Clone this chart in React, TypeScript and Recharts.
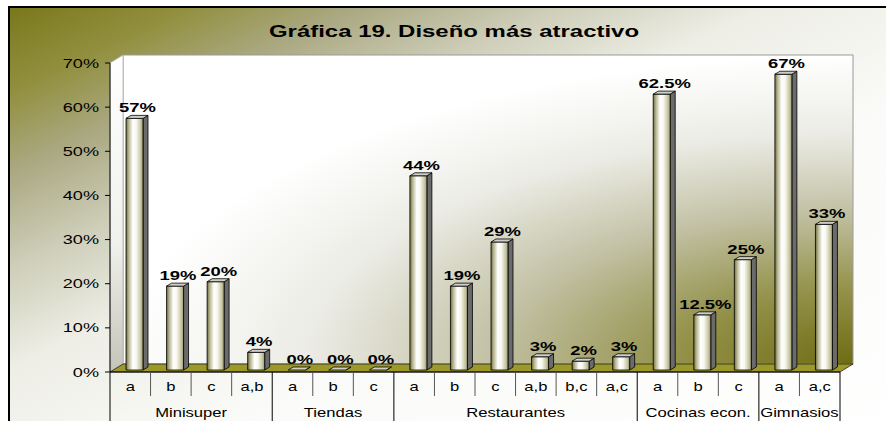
import React from 'react';
import { BarChart, Bar, XAxis, YAxis, ReferenceArea, LabelList } from 'recharts';

const CATS = ['a', 'b', 'c', 'a,b', 'a', 'b', 'c', 'a', 'b', 'c', 'a,b', 'b,c', 'a,c', 'a', 'b', 'c', 'a', 'a,c'];
const VALUES = [57, 19, 20, 4, 0, 0, 0, 44, 19, 29, 3, 2, 3, 62.5, 12.5, 25, 67, 33];
const GROUPS = ['Minisuper', 'Tiendas', 'Restaurantes', 'Cocinas econ.', 'Gimnasios'];
const GROUP_SIZES = [4, 3, 6, 3, 2];
const Y_TICKS = [0, 10, 20, 30, 40, 50, 60, 70];

const data = CATS.map((cat, i) => ({ id: String(i), cat, value: VALUES[i] }));

// index -> group, and where each group starts
const groupStarts: number[] = [];
const groupOf: number[] = [];
GROUP_SIZES.reduce((start, size, g) => {
  groupStarts.push(start);
  for (let k = 0; k < size; k++) groupOf.push(g);
  return start + size;
}, 0);

const FONT = '"Liberation Sans", Arial, sans-serif';

// the original picture is stretched sideways, so text gets a horizontal scale
function SText({ x, y, anchor = 'middle', size = 12, bold = false, sx = 1.4, children }: any) {
  return (
    <g transform={`translate(${x},${y}) scale(${sx},1)`}>
      <text x={0} y={0} textAnchor={anchor} fontSize={size} fontWeight={bold ? 'bold' : 'normal'} fontFamily={FONT} fill="#000">
        {children}
      </text>
    </g>
  );
}

const DX = 13;
const DY = 8;

function Walls(props: any) {
  const { x, y, width, height } = props;
  const b = y + height;
  return (
    <g>
      <defs>
        <radialGradient id="wallGrad" cx="1" cy="1" r="1" fx="1" fy="1">
          <stop offset="0" stopColor="#6e6c12" />
          <stop offset="0.25" stopColor="#95934c" />
          <stop offset="0.5" stopColor="#c3c2a6" />
          <stop offset="0.75" stopColor="#ececE6" />
          <stop offset="1" stopColor="#ffffff" />
        </radialGradient>
        <linearGradient id="sideGrad" x1="0" y1="0" x2="0" y2="1">
          <stop offset="0" stopColor="#ffffff" />
          <stop offset="0.6" stopColor="#f0f0ec" />
          <stop offset="1" stopColor="#c4c4b8" />
        </linearGradient>
        <linearGradient id="barFront" x1="0" y1="0" x2="1" y2="0">
          <stop offset="0" stopColor="#6f6d3c" />
          <stop offset="0.15" stopColor="#b4b28c" />
          <stop offset="0.4" stopColor="#ffffff" />
          <stop offset="0.6" stopColor="#f8f8f0" />
          <stop offset="0.88" stopColor="#c4c29c" />
          <stop offset="1" stopColor="#959370" />
        </linearGradient>
      </defs>
      <rect x={x + DX} y={y - DY} width={width} height={height} fill="url(#wallGrad)" stroke="#9a9a9a" strokeWidth={1} />
      <polygon
        points={`${x},${y} ${x + DX},${y - DY} ${x + DX},${b - DY} ${x},${b}`}
        fill="url(#sideGrad)"
        stroke="#b0b0b0"
        strokeWidth={0.8}
      />
      <polygon
        points={`${x},${b} ${x + DX},${b - DY} ${x + width + DX},${b - DY} ${x + width},${b}`}
        fill="#9c9928"
        stroke="#222"
        strokeWidth={0.8}
      />
    </g>
  );
}

function Bar3D(props: any) {
  const { x, y, width, height } = props;
  const fx = x + 4;
  const top = y - 2;
  const bottom = y + height - 2;
  const d = 5;
  const t = 3;
  return (
    <g stroke="#000" strokeWidth={0.8} strokeLinejoin="round">
      <polygon points={`${fx + width},${top} ${fx + width + d},${top - t} ${fx + width + d},${bottom - t} ${fx + width},${bottom}`} fill="#6b6b6b" />
      <rect x={fx} y={top} width={width} height={Math.max(bottom - top, 0)} fill="url(#barFront)" />
      <polygon points={`${fx},${top} ${fx + d},${top - t} ${fx + width + d},${top - t} ${fx + width},${top}`} fill="#cfcfc8" />
    </g>
  );
}

function BarLabel(props: any) {
  const { x, y, width, value } = props;
  return (
    <SText x={x + width / 2 + 7} y={y - 8} size={13} bold sx={1.42}>
      {`${value}%`}
    </SText>
  );
}

function YTick(props: any) {
  const { x, y, payload } = props;
  return (
    <SText x={x} y={y + 4.5} anchor="end" size={12.5} sx={1.45}>
      {`${payload.value}%`}
    </SText>
  );
}

function XTick(props: any) {
  const { x, y, payload, width } = props;
  const i = Number(payload.value);
  const half = payload.offset || width / CATS.length / 2;
  const g = groupOf[i];
  const first = groupStarts[g] === i;
  const last = groupStarts[g] + GROUP_SIZES[g] - 1 === i;
  return (
    <g>
      {i === 0 && <line x1={x - half} y1={y} x2={x - half} y2={y + 60} stroke="#000" strokeWidth={1} />}
      <line x1={x + half} y1={y} x2={x + half} y2={last ? y + 60 : y + 24} stroke={last ? '#000' : '#555'} strokeWidth={1} />
      <SText x={x} y={y + 19} size={12.5} sx={1.33}>
        {CATS[i]}
      </SText>
      {first && (
        <SText x={x - half + GROUP_SIZES[g] * half} y={y + 45} size={12.5} sx={1.33}>
          {GROUPS[g]}
        </SText>
      )}
    </g>
  );
}

export default function App() {
  return (
    <div style={{ position: 'absolute', left: 0, top: 0, width: 886, height: 421, overflow: 'hidden', background: '#fff' }}>
      <div
        style={{
          position: 'absolute',
          left: 8,
          top: 6,
          width: 900,
          height: 430,
          borderTop: '2px solid #000',
          borderLeft: '2px solid #000',
          background:
            'linear-gradient(to bottom right, #7a781c 0%, #92903f 10%, #aaa880 19%, #cdcdb8 30%, #eeeee6 42%, #fafaf8 60%, #ffffff 100%)',
        }}
      />
      <svg width={886} height={421} style={{ position: 'absolute', left: 0, top: 0 }}>
        <SText x={454} y={37} size={17} bold sx={1.41}>
          Gráfica 19. Diseño más atractivo
        </SText>
      </svg>
      <div style={{ position: 'absolute', left: 0, top: 0 }}>
        <BarChart width={886} height={421} data={data} margin={{ top: 63, right: 46, left: 0, bottom: 0 }}>
          <ReferenceArea y1={0} y2={70} shape={<Walls />} ifOverflow="visible" />
          <XAxis
            dataKey="id"
            interval={0}
            height={49}
            tickSize={0}
            tickMargin={0}
            tickLine={false}
            axisLine={{ stroke: '#000' }}
            tick={<XTick />}
          />
          <YAxis
            type="number"
            domain={[0, 70]}
            ticks={Y_TICKS}
            width={110}
            tickSize={5}
            tickMargin={6}
            axisLine={{ stroke: '#000' }}
            tickLine={{ stroke: '#000' }}
            tick={<YTick />}
          />
          <Bar dataKey="value" barSize={17} isAnimationActive={false} shape={(p: any) => <Bar3D {...p} />}>
            <LabelList dataKey="value" content={<BarLabel />} />
          </Bar>
        </BarChart>
      </div>
    </div>
  );
}
